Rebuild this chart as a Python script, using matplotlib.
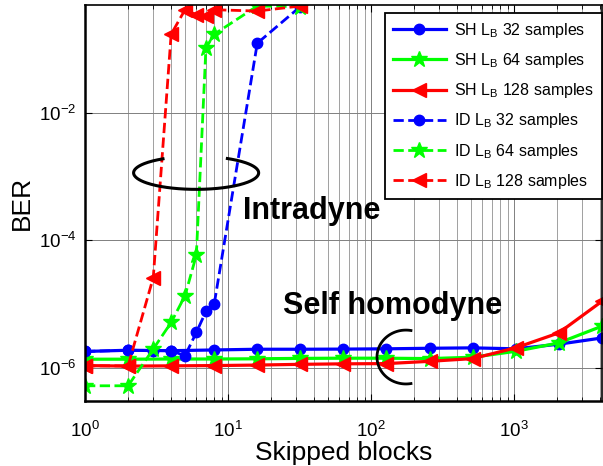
import numpy as np
import matplotlib
matplotlib.use("Agg")
import matplotlib.pyplot as plt
from matplotlib import ticker

plt.rcParams["font.family"] = ["Liberation Sans", "DejaVu Sans"]
plt.rcParams["mathtext.fontset"] = "custom"
plt.rcParams["mathtext.rm"] = "Liberation Sans"
plt.rcParams["mathtext.it"] = "Liberation Sans:italic"
plt.rcParams["mathtext.bf"] = "Liberation Sans:bold"
plt.rcParams["mathtext.default"] = "regular"
plt.rcParams["axes.unicode_minus"] = False

# ---------------------------------------------------------------- data
# skipped blocks (x axis)
x_sh = [1, 2, 4, 8, 16, 32, 64, 128, 256, 512, 1024, 2048, 4096]
x_id = [1, 2, 3, 4, 5, 6, 7, 8, 16, 32]

# self homodyne BER
ber_sh_32 = [1.80e-6, 1.88e-6, 1.85e-6, 1.90e-6, 1.95e-6, 1.95e-6, 1.96e-6,
             1.98e-6, 2.02e-6, 2.05e-6, 1.98e-6, 2.34e-6, 2.93e-6]
ber_sh_64 = [1.36e-6, 1.36e-6, 1.37e-6, 1.37e-6, 1.38e-6, 1.40e-6, 1.41e-6,
             1.41e-6, 1.39e-6, 1.46e-6, 1.81e-6, 2.45e-6, 4.48e-6]
ber_sh_128 = [1.08e-6, 1.06e-6, 1.07e-6, 1.08e-6, 1.10e-6, 1.13e-6, 1.15e-6,
              1.16e-6, 1.26e-6, 1.39e-6, 2.05e-6, 3.52e-6, 1.1e-5]

# intradyne BER
ber_id_32 = [1.80e-6, 1.88e-6, 1.86e-6, 1.85e-6, 1.54e-6, 3.58e-6, 7.64e-6,
             9.98e-6, 0.125, 0.47]
ber_id_64 = [5.2e-7, 5.2e-7, 1.97e-6, 5.14e-6, 1.35e-5, 5.86e-5, 0.105,
             0.173, 0.48, 0.47]
ber_id_128 = [1.07e-6, 1.07e-6, 2.61e-5, 0.173, 0.42, 0.35, 0.33,
              0.42, 0.40, 0.48]

labels_sh = ["SH L$_B$ 32 samples", "SH L$_B$ 64 samples", "SH L$_B$ 128 samples"]
labels_id = ["ID L$_B$ 32 samples", "ID L$_B$ 64 samples", "ID L$_B$ 128 samples"]

colors = ["#0000ff", "#00ff00", "#ff0000"]
markers = [("o", 7.5), ("*", 12), ("<", 10)]


def main():
    fig = plt.figure(figsize=(6.03, 4.66), dpi=100)
    ax = fig.add_axes([0.141, 0.1395, 0.857, 0.850])

    for ys, lab, c, (m, ms) in zip([ber_sh_32, ber_sh_64, ber_sh_128], labels_sh,
                                   colors, markers):
        ax.plot(x_sh, ys, color=c, ls="-", lw=2.3, marker=m, ms=ms,
                mec=c, mfc=c, label=lab)
    for ys, lab, c, (m, ms) in zip([ber_id_32, ber_id_64, ber_id_128], labels_id,
                                   colors, markers):
        ax.plot(x_id, ys, color=c, ls="--", lw=2.0, marker=m, ms=ms,
                mec=c, mfc=c, label=lab)

    ax.set_xscale("log")
    ax.set_yscale("log")
    ax.set_xlim(1, 4096)
    ax.set_ylim(3e-7, 0.5)
    ax.set_yticks([1e-6, 1e-4, 1e-2])
    ax.yaxis.set_minor_locator(ticker.NullLocator())
    ax.grid(True, which="major", color="#808080", lw=0.7)
    ax.grid(True, which="minor", axis="x", color="#909090", lw=0.6)
    ax.tick_params(which="both", direction="in", top=True, right=True,
                   labelsize=13.5)
    ax.tick_params(which="major", length=5, pad=6)
    ax.tick_params(which="minor", length=3)
    ax.tick_params(axis="x", which="major", pad=14)
    for side, sp in ax.spines.items():
        sp.set_linewidth(1.8 if side in ("left", "bottom") else 1.2)

    ax.set_xlabel("Skipped blocks", fontsize=19, labelpad=0)
    ax.set_ylabel("BER", fontsize=19, labelpad=4)

    # annotations
    ax.text(0.306, 0.46, "Intradyne", transform=ax.transAxes, fontsize=22,
            fontweight="bold", ha="left", va="baseline")
    ax.text(0.383, 0.22, "Self homodyne", transform=ax.transAxes, fontsize=22,
            fontweight="bold", ha="left", va="baseline")

    # open ellipse around the intradyne curves (gap at the top)
    t = np.deg2rad(np.linspace(122, 420, 200))
    ax.plot(0.215 + 0.121 * np.cos(t), 0.576 + 0.0417 * np.sin(t),
            transform=ax.transAxes, color="k", lw=2.2, clip_on=False)
    # bracket around the self homodyne curves
    t = np.deg2rad(np.linspace(80, 280, 100))
    ax.plot(0.621 + 0.056 * np.cos(t), 0.111 + 0.068 * np.sin(t),
            transform=ax.transAxes, color="k", lw=2.0, clip_on=False)

    leg = ax.legend(loc="upper right", bbox_to_anchor=(1.0, 0.98),
                    borderaxespad=0, fontsize=11.5, handlelength=3.3,
                    labelspacing=0.7, fancybox=False, framealpha=1,
                    edgecolor="k", borderpad=0.5, handletextpad=0.5)
    leg.get_frame().set_linewidth(1.3)

    fig.savefig("out.png", dpi=100)


if __name__ == "__main__":
    main()
